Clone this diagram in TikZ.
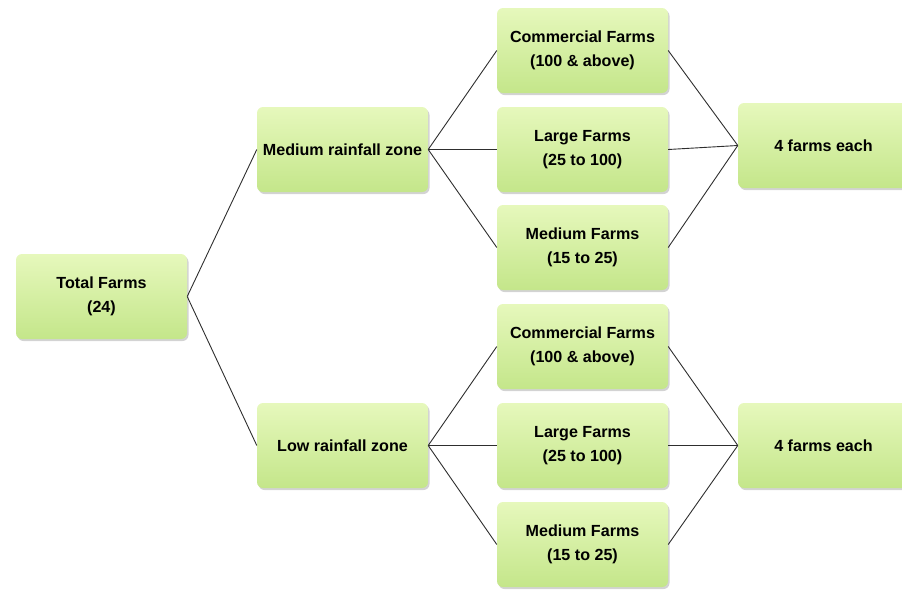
\documentclass[tikz,border=0pt]{standalone}
\usepackage{fontspec}
\setmainfont{Liberation Sans}
\usetikzlibrary{shadows}
\definecolor{boxtop}{HTML}{E6F8BC}
\definecolor{boxbot}{HTML}{C4E68A}
\definecolor{edge}{HTML}{2E2E2E}
\tikzset{
  fbox/.style={rectangle, rounded corners=6pt, minimum width=171pt, minimum height=85pt,
    top color=boxtop, bottom color=boxbot, draw=none,
    drop shadow={shadow xshift=1.5pt, shadow yshift=-2pt, opacity=0.35, fill=gray},
    font=\bfseries\fontsize{16.1}{24}\selectfont, align=center, inner sep=0pt},
  conn/.style={draw=edge, line width=0.9pt}
}
\begin{document}
\begin{tikzpicture}[x=1pt,y=-1pt]
\useasboundingbox (0,0) rectangle (902,590);
\node[fbox] (total) at (101.5,296.5) {Total Farms\\(24)};
\node[fbox] (med) at (342.5,149.5) {Medium rainfall zone};
\node[fbox] (low) at (342.5,445.5) {Low rainfall zone};
\node[fbox] (c1) at (582.5,50.5) {Commercial Farms\\(100 \& above)};
\node[fbox] (l1) at (582.5,149.5) {Large Farms\\(25 to 100)};
\node[fbox] (m1) at (582.5,247.5) {Medium Farms\\(15 to 25)};
\node[fbox] (c2) at (582.5,346.5) {Commercial Farms\\(100 \& above)};
\node[fbox] (l2) at (582.5,445.5) {Large Farms\\(25 to 100)};
\node[fbox] (m2) at (582.5,544.5) {Medium Farms\\(15 to 25)};
\node[fbox] (f1) at (823.5,145.5) {4 farms each};
\node[fbox] (f2) at (823.5,445.5) {4 farms each};
\draw[conn] (total.east) -- (med.west);
\draw[conn] (total.east) -- (low.west);
\foreach \a in {c1,l1,m1} {\draw[conn] (med.east) -- (\a.west); \draw[conn] (\a.east) -- (f1.west);}
\foreach \a in {c2,l2,m2} {\draw[conn] (low.east) -- (\a.west); \draw[conn] (\a.east) -- (f2.west);}
\end{tikzpicture}
\end{document}
